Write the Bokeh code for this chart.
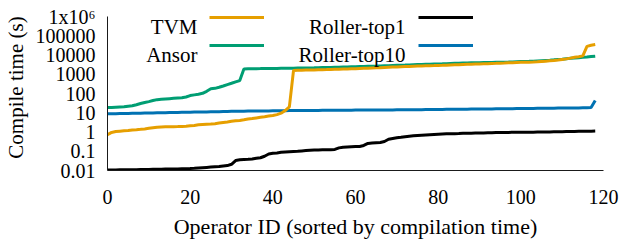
from bokeh.plotting import figure
from bokeh.models import FixedTicker, Legend, LegendItem, ColumnDataSource, Range1d, Label
from bokeh.embed import file_html
from bokeh.resources import INLINE

operator_id = list(range(119))

tvm = [0.72, 0.95, 1.05, 1.1, 1.15, 1.2, 1.28, 1.32, 1.38, 1.45,
       1.55, 1.65, 1.75, 1.8, 1.85, 1.88, 1.9, 1.92, 1.95, 2.0,
       2.1, 2.2, 2.35, 2.45, 2.55, 2.6, 2.7, 2.9, 3.1, 3.3,
       3.6, 3.8, 4.0, 4.3, 4.7, 5.0, 5.4, 5.8, 6.2, 6.7,
       7.2, 8.0, 9.5, 13, 20, 1550, 1600, 1620, 1640, 1660,
       1680, 1700, 1720, 1740, 1770, 1800, 1830, 1860, 1890, 1920,
       1950, 1990, 2030, 2070, 2110, 2150, 2200, 2250, 2300, 2350,
       2400, 2450, 2500, 2550, 2600, 2650, 2700, 2750, 2800, 2820,
       2850, 2900, 2960, 3020, 3080, 3140, 3200, 3260, 3320, 3380,
       3440, 3500, 3560, 3620, 3680, 3750, 3820, 3900, 3980, 4060,
       4140, 4200, 4260, 4300, 4400, 4600, 4800, 5000, 5200, 5500,
       5900, 6300, 6900, 7600, 8200, 9000, 28000, 32000, 35000]

ansor = [19, 19, 19.5, 20, 20.5, 22, 23, 26, 30, 34,
         38, 43, 48, 50, 52, 54, 56, 58, 60, 66,
         78, 85, 92, 102, 130, 175, 185, 210, 245, 290,
         340, 400, 470, 1900, 1920, 1930, 1950, 1960, 1980, 1990,
         2000, 2010, 2030, 2050, 2060, 2080, 2100, 2110, 2120, 2140,
         2150, 2180, 2210, 2240, 2270, 2300, 2330, 2360, 2390, 2420,
         2450, 2490, 2530, 2570, 2610, 2650, 2700, 2750, 2800, 2850,
         2900, 2950, 3000, 3060, 3120, 3180, 3240, 3300, 3350, 3400,
         3450, 3500, 3560, 3620, 3680, 3740, 3800, 3860, 3920, 3960,
         4000, 4040, 4080, 4120, 4160, 4200, 4250, 4300, 4380, 4460,
         4540, 4620, 4700, 4800, 4950, 5100, 5250, 5400, 5600, 5850,
         6100, 6400, 6700, 7000, 7300, 7600, 7900, 8300, 8700]

roller_top1 = [0.0105, 0.0106, 0.0107, 0.0108, 0.0109, 0.011, 0.011, 0.0111, 0.0112, 0.0113,
               0.0114, 0.0115, 0.0116, 0.0117, 0.0118, 0.0119, 0.012, 0.0121, 0.0123, 0.0125,
               0.0127, 0.013, 0.0135, 0.014, 0.0145, 0.015, 0.0155, 0.016, 0.017, 0.018,
               0.021, 0.033, 0.036, 0.037, 0.038, 0.04, 0.043, 0.046, 0.055, 0.072,
               0.078, 0.082, 0.088, 0.091, 0.094, 0.097, 0.1, 0.104, 0.108, 0.112,
               0.115, 0.117, 0.118, 0.119, 0.12, 0.125, 0.15, 0.162, 0.166, 0.17,
               0.174, 0.178, 0.2, 0.255, 0.265, 0.275, 0.285, 0.32, 0.42, 0.46,
               0.5, 0.53, 0.57, 0.6, 0.63, 0.66, 0.68, 0.7, 0.72, 0.74,
               0.76, 0.78, 0.8, 0.81, 0.82, 0.83, 0.85, 0.86, 0.87, 0.88,
               0.89, 0.9, 0.91, 0.92, 0.93, 0.94, 0.95, 0.955, 0.96, 0.965,
               0.97, 0.975, 0.98, 0.985, 0.99, 0.995, 1.0, 1.01, 1.02, 1.03,
               1.04, 1.05, 1.06, 1.07, 1.08, 1.09, 1.1, 1.1, 1.12]

roller_top10 = [8.8, 8.9, 9.0, 9.1, 9.1, 9.2, 9.3, 9.4, 9.5, 9.6,
                9.7, 9.8, 9.9, 10.0, 10.1, 10.2, 10.3, 10.4, 10.5, 10.6,
                10.7, 10.8, 10.9, 11.0, 11.1, 11.2, 11.3, 11.4, 11.5, 11.6,
                11.8, 11.9, 12.0, 12.1, 12.2, 12.2, 12.3, 12.4, 12.5, 12.5,
                12.6, 12.7, 12.8, 12.8, 12.9, 12.9, 13.0, 13.0, 13.1, 13.1,
                13.2, 13.2, 13.3, 13.3, 13.4, 13.4, 13.5, 13.5, 13.6, 13.6,
                13.7, 13.7, 13.8, 13.8, 13.9, 13.9, 14.0, 14.0, 14.1, 14.1,
                14.2, 14.2, 14.3, 14.3, 14.4, 14.5, 14.5, 14.6, 14.7, 14.8,
                14.8, 14.9, 15.0, 15.1, 15.1, 15.2, 15.3, 15.4, 15.5, 15.5,
                15.6, 15.7, 15.8, 15.8, 15.9, 16.0, 16.1, 16.2, 16.3, 16.4,
                16.5, 16.6, 16.7, 16.8, 16.9, 17.0, 17.1, 17.2, 17.3, 17.4,
                17.5, 17.6, 17.7, 17.8, 17.9, 18.0, 18.1, 18.5, 43]

x_ticks = [0, 20, 40, 60, 80, 100, 120]
y_ticks = [0.01, 0.1, 1, 10, 100, 1000, 10000, 100000, 1000000]
y_tick_labels = ["0.01", "0.1", "1", "10", "100", "1000", "10000", "100000", "1x10\u2076"]

FONT = "'Liberation Serif', 'Times New Roman', serif"

# layout: 19.25 px per decade, frame extended 12 px above the top tick so that
# the legend texts (which overhang the top tick) are not clipped
PX_PER_DECADE = 19.25
EXTRA_TOP_PX = 12
y_max = y_ticks[-1] * 10 ** (EXTRA_TOP_PX / PX_PER_DECADE)

src = ColumnDataSource(dict(x=operator_id, tvm=tvm, ansor=ansor,
                            top1=roller_top1, top10=roller_top10))

p = figure(width=623, height=246, y_axis_type="log",
           x_range=Range1d(x_ticks[0], x_ticks[-1]), y_range=Range1d(y_ticks[0], y_max),
           output_backend="svg", toolbar_location=None,
           min_border_left=107, min_border_right=20,
           min_border_top=16 - EXTRA_TOP_PX, min_border_bottom=76)
p.outline_line_color = None
p.xgrid.visible = False
p.ygrid.visible = False
p.background_fill_color = "white"
p.border_fill_color = "white"

r_top10 = p.line("x", "top10", source=src, line_color="#0072B2", line_width=3)
r_ansor = p.line("x", "ansor", source=src, line_color="#009E73", line_width=3)
r_top1 = p.line("x", "top1", source=src, line_color="#000000", line_width=3)
r_tvm = p.line("x", "tvm", source=src, line_color="#E69F00", line_width=3)

xa = p.xaxis[0]
ya = p.yaxis[0]
xa.ticker = FixedTicker(ticks=x_ticks)
ya.ticker = FixedTicker(ticks=y_ticks)
ya.bounds = (y_ticks[0], y_ticks[-1])
ya.major_label_overrides = {float(v): s for v, s in zip(y_ticks, y_tick_labels)}
for ax in (xa, ya):
    ax.major_tick_line_color = None
    ax.minor_tick_line_color = None
    ax.major_tick_out = 0
    ax.major_tick_in = 0
    ax.minor_tick_out = 0
    ax.minor_tick_in = 0
    ax.axis_line_color = "#1a1a1a"
    ax.axis_line_width = 1
    ax.major_label_text_font = FONT
    ax.major_label_text_font_size = "20px"
    ax.major_label_text_color = "black"
    ax.axis_label_text_font = FONT
    ax.axis_label_text_font_style = "normal"
    ax.axis_label_text_color = "black"

xa.axis_label = "Operator ID (sorted by compilation time)"
ya.axis_label = "Compile time (s)"
xa.axis_label_text_font_size = "22px"
ya.axis_label_text_font_size = "21px"
ya.major_label_standoff = 12
ya.axis_label_standoff = 5
xa.major_label_standoff = 19
xa.axis_label_standoff = 7

legend_style = dict(orientation="vertical", glyph_width=55, glyph_height=20,
                    label_height=20, label_width=0, label_standoff=0,
                    spacing=0, padding=0, margin=0,
                    border_line_color=None, background_fill_alpha=0,
                    label_text_font_size="1px")

names = ["TVM", "Ansor", "Roller-top1", "Roller-top10"]
renderers = [r_tvm, r_ansor, r_top1, r_top10]
glyph_x = [102, 102, 311, 311]
row_y = [143, 115, 143, 115]
text_x = [90, 90, 298, 298]
text_y = [143.5, 115.5, 143.5, 115.5]

for name, r, gx, ry, tx, ty in zip(names, renderers, glyph_x, row_y, text_x, text_y):
    leg = Legend(items=[LegendItem(label=" ", renderers=[r])],
                 location=(gx, ry), **legend_style)
    p.add_layout(leg)
    p.add_layout(Label(x=tx, y=ty, x_units="screen", y_units="screen", text=name,
                       text_align="right", text_baseline="alphabetic",
                       text_font=FONT, text_font_size="21px", text_color="black"))

open("out.html", "w").write(file_html(p, INLINE))
